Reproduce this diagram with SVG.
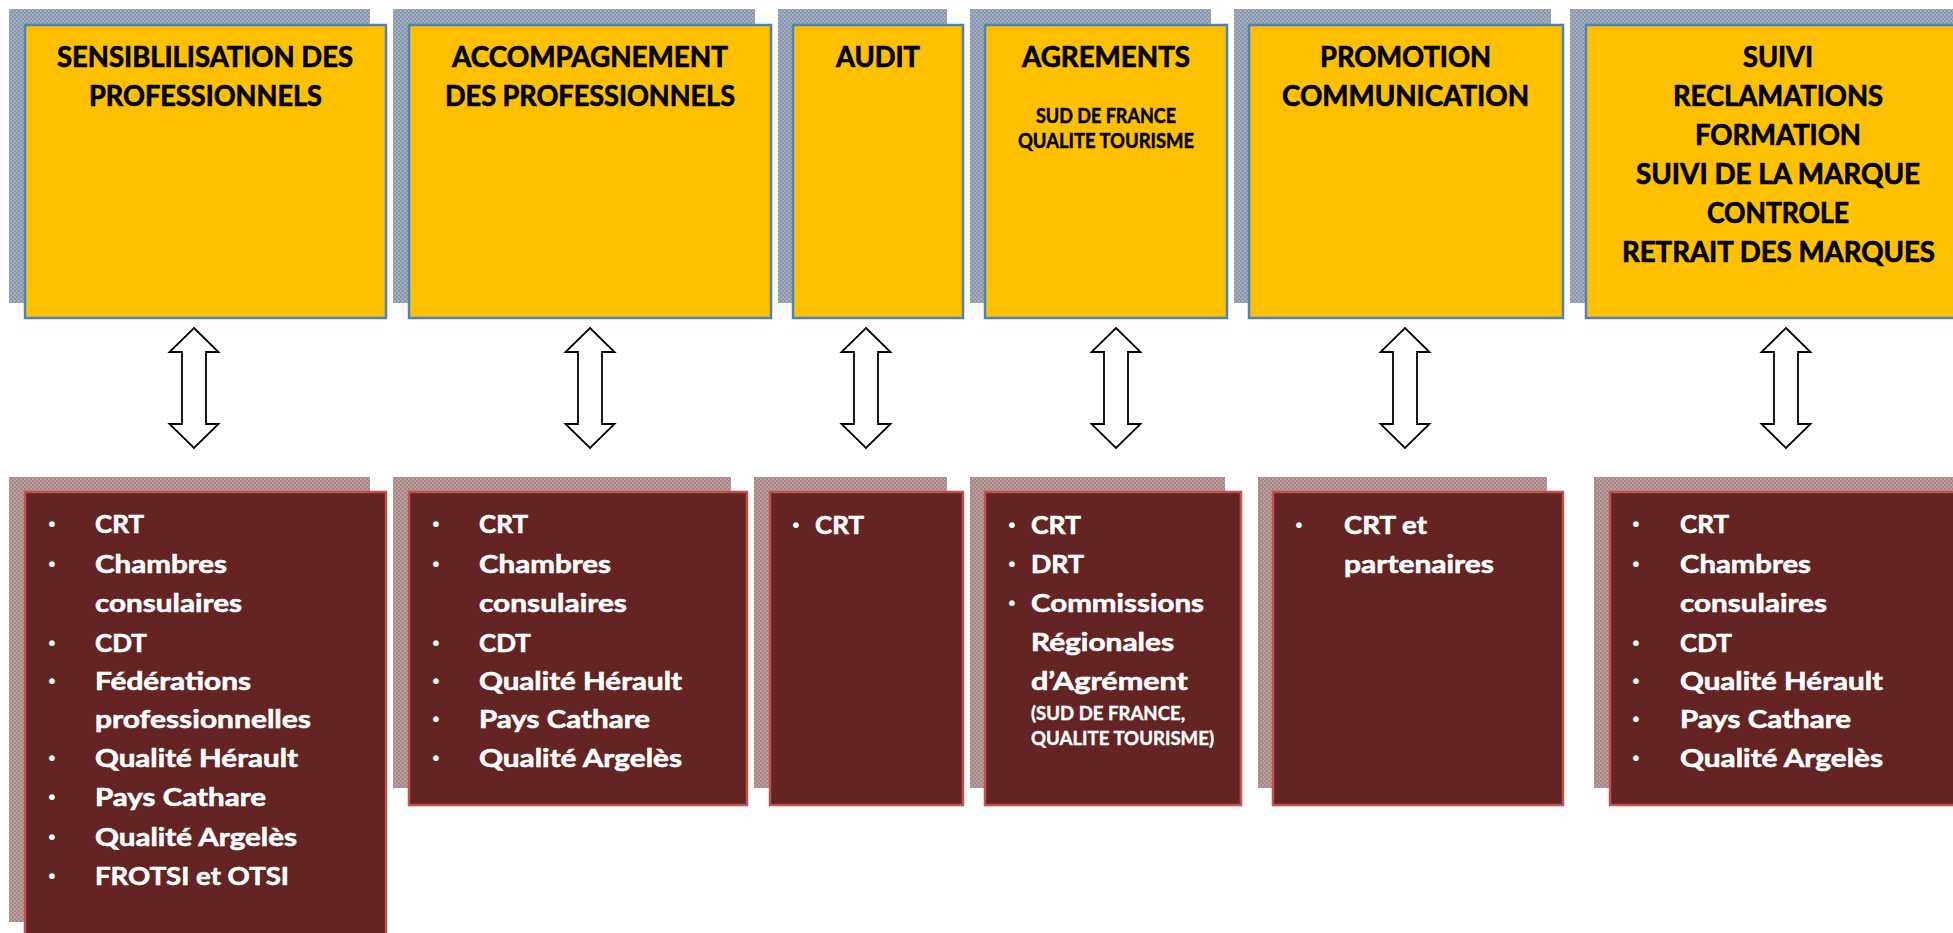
<svg xmlns="http://www.w3.org/2000/svg" xmlns:xlink="http://www.w3.org/1999/xlink" width="1953" height="933" viewBox="0 0 1953 933">
<defs>
<pattern id="shBlue" width="4" height="4" patternUnits="userSpaceOnUse">
<rect width="4" height="4" fill="#A3AEC1"/>
<rect width="2" height="2" fill="#8A98AF"/>
<rect x="2" y="2" width="2" height="2" fill="#8A98AF"/>
</pattern>
<pattern id="shRed" width="4" height="4" patternUnits="userSpaceOnUse">
<rect width="4" height="4" fill="#BC9C9C"/>
<rect width="2" height="2" fill="#A88585"/>
<rect x="2" y="2" width="2" height="2" fill="#A88585"/>
</pattern>
<path id="dbl" d="M0,328 L24.5,352 L12,352 L12,424 L24.5,424 L0,448 L-24.5,424 L-12,424 L-12,352 L-24.5,352 Z"/>
<style>
.shT{fill:url(#shBlue);}
.shB{fill:url(#shRed);}
.top{fill:#FFC000;stroke:#4F81BD;stroke-width:2.5;}
.bot{fill:#632423;stroke:#C0504D;stroke-width:2.5;}
.h{font-family:Lato,"Open Sans","Liberation Sans",sans-serif;font-weight:bold;font-size:28px;fill:#000;stroke:#000;stroke-width:0.7;text-anchor:middle;}
.hs{font-family:Lato,"Open Sans","Liberation Sans",sans-serif;font-weight:bold;font-size:20px;fill:#000;stroke:#000;stroke-width:0.5;text-anchor:middle;}
.b{font-family:Lato,"Open Sans","Liberation Sans",sans-serif;font-weight:bold;font-size:25.5px;fill:#fff;stroke:#fff;stroke-width:0.6;}
.bs{font-family:Lato,"Open Sans","Liberation Sans",sans-serif;font-weight:bold;font-size:18px;fill:#fff;stroke:#fff;stroke-width:0.4;}
.dot{font-family:"DejaVu Sans",sans-serif;font-size:20px;fill:#fff;text-anchor:middle;}
.arr{fill:#fff;stroke:#000;stroke-width:1.8;stroke-linejoin:miter;}
</style>
</defs>
<rect width="1953" height="933" fill="#fff"/>

<g id="top-sensibilisation">
<rect class="shT" x="9" y="9" width="361" height="294"/>
<rect class="top" x="25" y="25" width="361" height="293"/>
<text class="h" x="205" y="67" textLength="296" lengthAdjust="spacingAndGlyphs">SENSIBLILISATION DES</text>
<text class="h" x="205.5" y="106" textLength="233" lengthAdjust="spacingAndGlyphs">PROFESSIONNELS</text>
</g>
<g id="top-accompagnement">
<rect class="shT" x="393" y="9" width="362" height="294"/>
<rect class="top" x="409" y="25" width="362" height="293"/>
<text class="h" x="590" y="67" textLength="276" lengthAdjust="spacingAndGlyphs">ACCOMPAGNEMENT</text>
<text class="h" x="590" y="106" textLength="290" lengthAdjust="spacingAndGlyphs">DES PROFESSIONNELS</text>
</g>
<g id="top-audit">
<rect class="shT" x="778" y="9" width="169" height="294"/>
<rect class="top" x="793" y="25" width="170" height="293"/>
<text class="h" x="878" y="67" textLength="84" lengthAdjust="spacingAndGlyphs">AUDIT</text>
</g>
<g id="top-agrements">
<rect class="shT" x="970" y="9" width="241" height="294"/>
<rect class="top" x="985" y="25" width="242" height="293"/>
<text class="h" x="1106" y="67" textLength="168" lengthAdjust="spacingAndGlyphs">AGREMENTS</text>
<text class="hs" x="1106" y="123" textLength="140" lengthAdjust="spacingAndGlyphs">SUD DE FRANCE</text>
<text class="hs" x="1106" y="148" textLength="176" lengthAdjust="spacingAndGlyphs">QUALITE TOURISME</text>
</g>
<g id="top-promotion">
<rect class="shT" x="1234" y="9" width="317" height="294"/>
<rect class="top" x="1249" y="25" width="314" height="293"/>
<text class="h" x="1405.5" y="67" textLength="171" lengthAdjust="spacingAndGlyphs">PROMOTION</text>
<text class="h" x="1405.5" y="106" textLength="247" lengthAdjust="spacingAndGlyphs">COMMUNICATION</text>
</g>
<g id="top-suivi">
<rect class="shT" x="1570" y="9" width="400" height="294"/>
<rect class="top" x="1586" y="25" width="400" height="293"/>
<text class="h" x="1778" y="67" textLength="70" lengthAdjust="spacingAndGlyphs">SUIVI</text>
<text class="h" x="1778" y="106" textLength="210" lengthAdjust="spacingAndGlyphs">RECLAMATIONS</text>
<text class="h" x="1778" y="145" textLength="166" lengthAdjust="spacingAndGlyphs">FORMATION</text>
<text class="h" x="1778" y="184" textLength="284" lengthAdjust="spacingAndGlyphs">SUIVI DE LA MARQUE</text>
<text class="h" x="1778" y="223" textLength="142" lengthAdjust="spacingAndGlyphs">CONTROLE</text>
<text class="h" x="1778.5" y="262" textLength="313" lengthAdjust="spacingAndGlyphs">RETRAIT DES MARQUES</text>
</g>

<g id="connectors">
<use xlink:href="#dbl" x="194" class="arr"/>
<use xlink:href="#dbl" x="590" class="arr"/>
<use xlink:href="#dbl" x="866" class="arr"/>
<use xlink:href="#dbl" x="1116" class="arr"/>
<use xlink:href="#dbl" x="1405" class="arr"/>
<use xlink:href="#dbl" x="1786" class="arr"/>
</g>

<g id="bot-sensibilisation">
<rect class="shB" x="9" y="477" width="361" height="445"/>
<rect class="bot" x="25" y="492" width="361" height="460"/>
<text class="dot" x="52" y="531">•</text>
<text class="dot" x="52" y="571">•</text>
<text class="dot" x="52" y="650">•</text>
<text class="dot" x="52" y="688">•</text>
<text class="dot" x="52" y="765">•</text>
<text class="dot" x="52" y="804">•</text>
<text class="dot" x="52" y="844">•</text>
<text class="dot" x="52" y="883">•</text>
<text class="b" x="95" y="533" textLength="49" lengthAdjust="spacingAndGlyphs">CRT</text>
<text class="b" x="95" y="573" textLength="132" lengthAdjust="spacingAndGlyphs">Chambres</text>
<text class="b" x="95" y="612" textLength="147" lengthAdjust="spacingAndGlyphs">consulaires</text>
<text class="b" x="95" y="652" textLength="52" lengthAdjust="spacingAndGlyphs">CDT</text>
<text class="b" x="95" y="690" textLength="156" lengthAdjust="spacingAndGlyphs">Fédérations</text>
<text class="b" x="95" y="728" textLength="216" lengthAdjust="spacingAndGlyphs">professionnelles</text>
<text class="b" x="95" y="767" textLength="203" lengthAdjust="spacingAndGlyphs">Qualité Hérault</text>
<text class="b" x="95" y="806" textLength="171" lengthAdjust="spacingAndGlyphs">Pays Cathare</text>
<text class="b" x="95" y="846" textLength="202" lengthAdjust="spacingAndGlyphs">Qualité Argelès</text>
<text class="b" x="95" y="885" textLength="194" lengthAdjust="spacingAndGlyphs">FROTSI et OTSI</text>
</g>
<g id="bot-accompagnement">
<rect class="shB" x="393" y="477" width="338" height="311"/>
<rect class="bot" x="409" y="492" width="338" height="313"/>
<text class="dot" x="436" y="531">•</text>
<text class="dot" x="436" y="571">•</text>
<text class="dot" x="436" y="650">•</text>
<text class="dot" x="436" y="688">•</text>
<text class="dot" x="436" y="726">•</text>
<text class="dot" x="436" y="765">•</text>
<text class="b" x="479" y="533" textLength="49" lengthAdjust="spacingAndGlyphs">CRT</text>
<text class="b" x="479" y="573" textLength="132" lengthAdjust="spacingAndGlyphs">Chambres</text>
<text class="b" x="479" y="612" textLength="148" lengthAdjust="spacingAndGlyphs">consulaires</text>
<text class="b" x="479" y="652" textLength="52" lengthAdjust="spacingAndGlyphs">CDT</text>
<text class="b" x="479" y="690" textLength="203" lengthAdjust="spacingAndGlyphs">Qualité Hérault</text>
<text class="b" x="479" y="728" textLength="171" lengthAdjust="spacingAndGlyphs">Pays Cathare</text>
<text class="b" x="479" y="767" textLength="203" lengthAdjust="spacingAndGlyphs">Qualité Argelès</text>
</g>
<g id="bot-audit">
<rect class="shB" x="754" y="477" width="193" height="311"/>
<rect class="bot" x="770" y="492" width="193" height="313"/>
<text class="dot" x="796" y="532">•</text>
<text class="b" x="815" y="534" textLength="49" lengthAdjust="spacingAndGlyphs">CRT</text>
</g>
<g id="bot-agrements">
<rect class="shB" x="970" y="477" width="255" height="311"/>
<rect class="bot" x="985" y="492" width="256" height="313"/>
<text class="dot" x="1012" y="532">•</text>
<text class="dot" x="1012" y="571">•</text>
<text class="dot" x="1012" y="610">•</text>
<text class="b" x="1031" y="534" textLength="50" lengthAdjust="spacingAndGlyphs">CRT</text>
<text class="b" x="1031" y="573" textLength="53" lengthAdjust="spacingAndGlyphs">DRT</text>
<text class="b" x="1031" y="612" textLength="173" lengthAdjust="spacingAndGlyphs">Commissions</text>
<text class="b" x="1031" y="651" textLength="143" lengthAdjust="spacingAndGlyphs">Régionales</text>
<text class="b" x="1031" y="690" textLength="157" lengthAdjust="spacingAndGlyphs">d’Agrément</text>
<text class="bs" x="1031" y="720" textLength="154" lengthAdjust="spacingAndGlyphs">(SUD DE FRANCE,</text>
<text class="bs" x="1031" y="745" textLength="183" lengthAdjust="spacingAndGlyphs">QUALITE TOURISME)</text>
</g>
<g id="bot-promotion">
<rect class="shB" x="1258" y="477" width="289" height="311"/>
<rect class="bot" x="1273" y="492" width="290" height="313"/>
<text class="dot" x="1299" y="532">•</text>
<text class="b" x="1344" y="534" textLength="83" lengthAdjust="spacingAndGlyphs">CRT et</text>
<text class="b" x="1344" y="573" textLength="150" lengthAdjust="spacingAndGlyphs">partenaires</text>
</g>
<g id="bot-suivi">
<rect class="shB" x="1594" y="477" width="380" height="311"/>
<rect class="bot" x="1610" y="492" width="380" height="313"/>
<text class="dot" x="1636" y="531">•</text>
<text class="dot" x="1636" y="571">•</text>
<text class="dot" x="1636" y="650">•</text>
<text class="dot" x="1636" y="688">•</text>
<text class="dot" x="1636" y="726">•</text>
<text class="dot" x="1636" y="765">•</text>
<text class="b" x="1680" y="533" textLength="49" lengthAdjust="spacingAndGlyphs">CRT</text>
<text class="b" x="1680" y="573" textLength="131" lengthAdjust="spacingAndGlyphs">Chambres</text>
<text class="b" x="1680" y="612" textLength="147" lengthAdjust="spacingAndGlyphs">consulaires</text>
<text class="b" x="1680" y="652" textLength="52" lengthAdjust="spacingAndGlyphs">CDT</text>
<text class="b" x="1680" y="690" textLength="203" lengthAdjust="spacingAndGlyphs">Qualité Hérault</text>
<text class="b" x="1680" y="728" textLength="171" lengthAdjust="spacingAndGlyphs">Pays Cathare</text>
<text class="b" x="1680" y="767" textLength="203" lengthAdjust="spacingAndGlyphs">Qualité Argelès</text>
</g>
</svg>
